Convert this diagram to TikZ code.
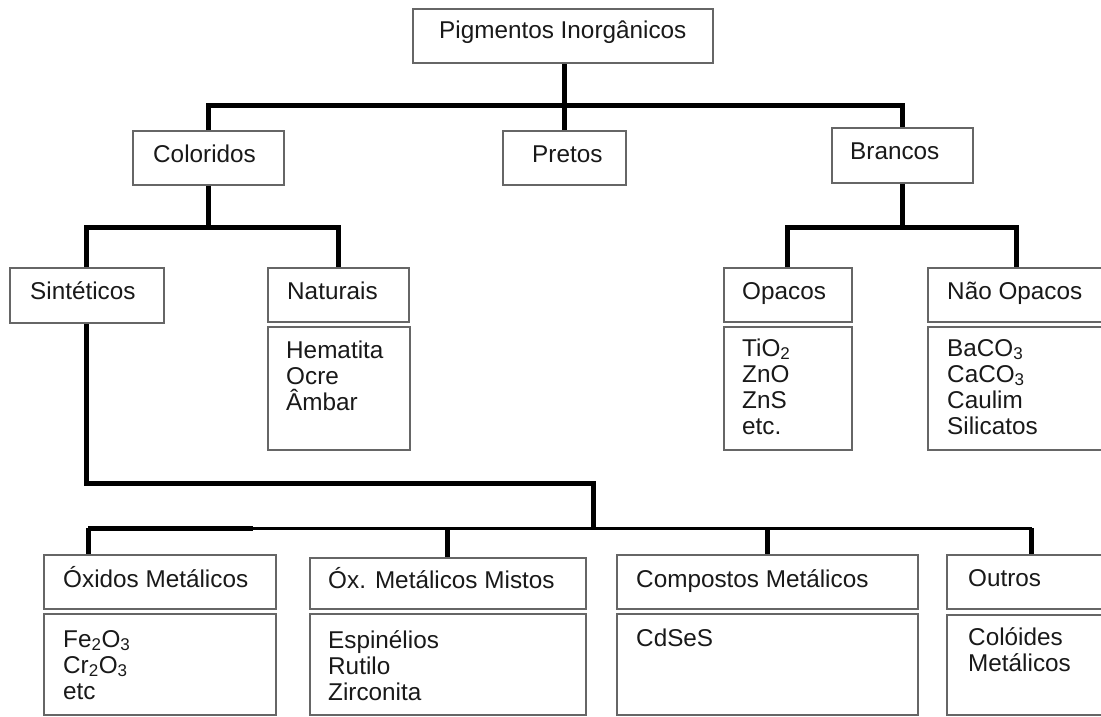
\documentclass[tikz,border=0pt]{standalone}
\usepackage{fontspec}
\setmainfont{Liberation Sans}
\begin{document}
\begin{tikzpicture}[x=1pt,y=-1pt,
  bx/.style={draw=black!60, line width=1.8pt, rectangle, inner sep=0pt, anchor=north west, fill=white},
  txt/.style={inner sep=0pt, anchor=base west, align=left, font=\fontsize{24.3}{26}\selectfont, text=black!90},
  conn/.style={line width=5pt, line join=miter},
  thinconn/.style={line width=3pt, line join=miter}]
\path[use as bounding box, clip] (0,0) rectangle (1101,716);

% level 0
\node[bx, minimum width=300pt, minimum height=54pt] (P) at (412,8) {};
\node[txt] (Pt) at (439,38) {Pigmentos Inorgânicos};

% level 1
\node[bx, minimum width=151pt, minimum height=54pt] (col) at (132,130) {};
\node[txt] (colt) at (153,162) {Coloridos};
\node[bx, minimum width=123pt, minimum height=54pt] (pre) at (502,130) {};
\node[txt] (pret) at (532,162) {Pretos};
\node[bx, minimum width=141pt, minimum height=55pt] (bra) at (831,127) {};
\node[txt] (brat) at (850,159) {Brancos};

% level 2
\node[bx, minimum width=154pt, minimum height=55pt] (sin) at (9,267) {};
\node[txt] (sint) at (30,299) {Sintéticos};
\node[bx, minimum width=141pt, minimum height=54pt] (nat) at (267,267) {};
\node[txt] (natt) at (287,299) {Naturais};
\node[bx, minimum width=142pt, minimum height=123pt] (natl) at (267,326) {};
\node[txt] (natlt) at (286,410) {Hematita\\Ocre\\Âmbar};

\node[bx, minimum width=128pt, minimum height=54pt] (opa) at (723,267) {};
\node[txt] (opat) at (742,299) {Opacos};
\node[bx, minimum width=128pt, minimum height=123pt] (opal) at (723,326) {};
\node[txt] (opalt) at (742,434) {TiO\textsubscript{2}\\ZnO\\ZnS\\etc.};

\node[bx, minimum width=178pt, minimum height=54pt] (nao) at (927,267) {};
\node[txt] (naot) at (947,299) {Não Opacos};
\node[bx, minimum width=178pt, minimum height=123pt] (naol) at (927,326) {};
\node[txt] (naolt) at (947,434) {BaCO\textsubscript{3}\\CaCO\textsubscript{3}\\Caulim\\Silicatos};

% level 3
\node[bx, minimum width=232pt, minimum height=54pt] (oxi) at (43,554) {};
\node[txt] (oxit) at (63,587) {Óxidos Metálicos};
\node[bx, minimum width=232pt, minimum height=101pt] (oxil) at (43,613) {};
\node[txt] (oxilt) at (63,699) {Fe\textsubscript{2}O\textsubscript{3}\\Cr\textsubscript{2}O\textsubscript{3}\\etc};

\node[bx, minimum width=276pt, minimum height=51pt] (mis) at (309,557) {};
\node[txt] (mist) at (328,588) {Óx. Metálicos Mistos};
\node[bx, minimum width=276pt, minimum height=101pt] (misl) at (309,613) {};
\node[txt] (mislt) at (328,700) {Espinélios\\Rutilo\\Zirconita};

\node[bx, minimum width=301pt, minimum height=54pt] (com) at (616,554) {};
\node[txt] (comt) at (636,587) {Compostos Metálicos};
\node[bx, minimum width=301pt, minimum height=101pt] (coml) at (616,613) {};
\node[txt] (comlt) at (636,646) {CdSeS};

\node[bx, minimum width=170pt, minimum height=54pt] (out) at (946,554) {};
\node[txt] (outt) at (968,586) {Outros};
\node[bx, minimum width=170pt, minimum height=100pt] (outl) at (946,614) {};
\node[txt] (outlt) at (968,671) {Colóides\\Metálicos};

% junction coordinates
\coordinate (j0) at (563,105);
\coordinate (jc) at (208,227);
\coordinate (jb) at (902,227);
\coordinate (s2) at (593,483);
\coordinate (s3) at (593,528);
\coordinate (b0) at (88,528);
\coordinate (bt) at (253,528);

% connectors
\draw[conn] (col.north) |- (j0) -| (bra.north);
\draw[conn] (pre.north) -- (pre.north |- P.south);
\draw[conn] (col.south) -- (col.south |- jc);
\draw[conn] (sin.north) |- (jc) -| (nat.north);
\draw[conn] (bra.south) -- (bra.south |- jb);
\draw[conn] (opa.north) |- (jb) -| (nao.north);
\draw[conn] (sin.south) |- (s2) -- (s3);
\draw[thinconn] (b0) -- (b0 -| out.north);
\draw[conn] (b0) -- (bt);
\draw[conn] (b0) -- (b0 |- oxi.north);
\draw[conn] (mis.north) -- (mis.north |- b0);
\draw[conn] (com.north) -- (com.north |- b0);
\draw[conn] (out.north) -- (out.north |- b0);
\end{tikzpicture}
\end{document}
